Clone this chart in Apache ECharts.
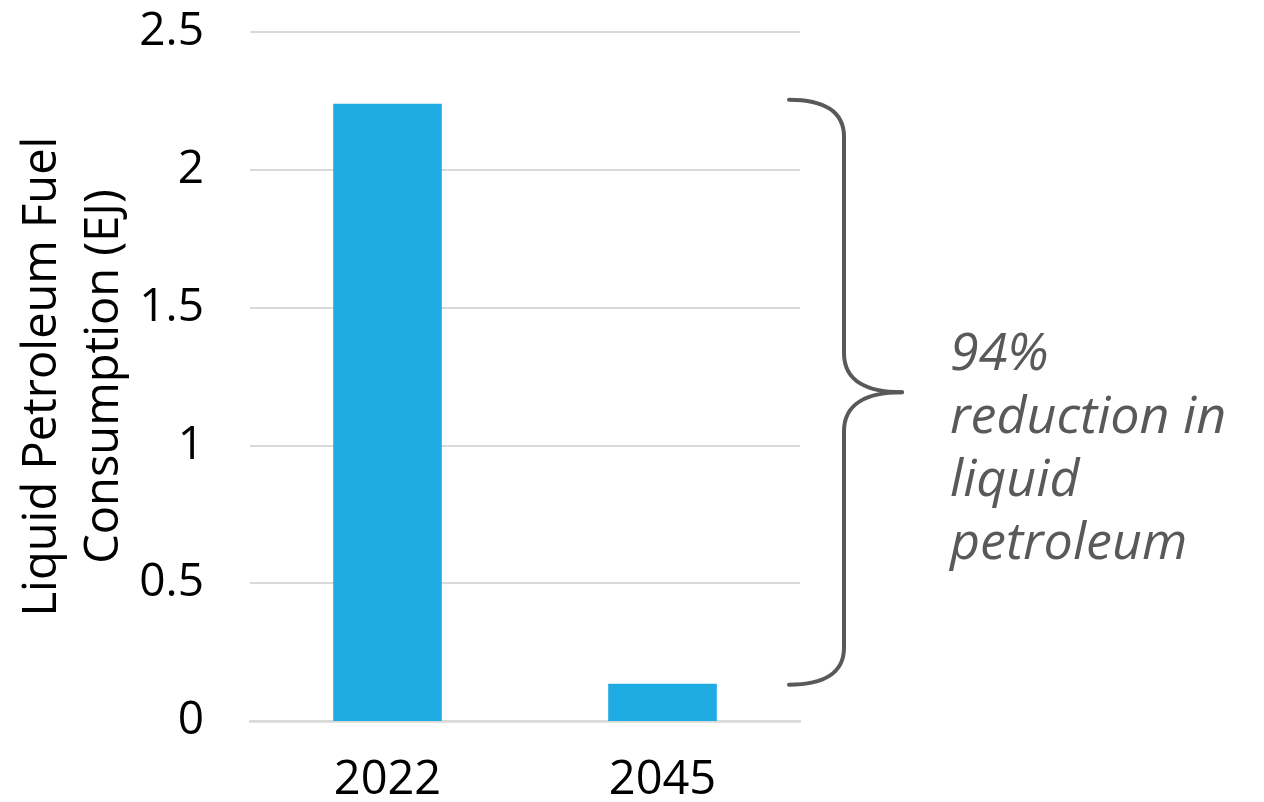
<!DOCTYPE html>
<html>
<head>
<meta charset="utf-8">
<script src="https://cdn.jsdelivr.net/npm/echarts@6/dist/echarts.min.js"></script>
<style>
html,body{margin:0;padding:0;background:#fff;}
#chart{width:1264px;height:802px;}
</style>
</head>
<body>
<div id="chart"></div>
<script>
var categories = ['2022', '2045'];
var consumption = [2.24, 0.135];
var yTicks = [0, 0.5, 1, 1.5, 2, 2.5];
var yAxisTitle = 'Liquid Petroleum Fuel\nConsumption (EJ)';
var annotation = '94%\nreduction in\nliquid\npetroleum';

var FONT = "'Open Sans', Lato, sans-serif";
var GRID_LEFT = 250, GRID_RIGHT = 464, GRID_TOP = 32, GRID_BOTTOM = 81;

var chart = echarts.init(document.getElementById('chart'));
chart.setOption({
  animation: false,
  backgroundColor: '#ffffff',
  grid: {left: GRID_LEFT, right: GRID_RIGHT, top: GRID_TOP, bottom: GRID_BOTTOM,
    containLabel: false, outerBoundsMode: 'none'},
  xAxis: {
    type: 'category',
    data: categories,
    axisLine: {show: true, lineStyle: {color: '#d9d9d9', width: 2.5}},
    axisTick: {show: false},
    axisLabel: {color: '#000', fontFamily: FONT, fontSize: 47, margin: 36}
  },
  yAxis: {
    type: 'value',
    min: yTicks[0],
    max: yTicks[yTicks.length - 1],
    interval: 0.5,
    name: yAxisTitle,
    nameLocation: 'middle',
    nameRotate: 90,
    nameGap: 113,
    nameTextStyle: {color: '#000', fontFamily: FONT, fontSize: 47, lineHeight: 62},
    axisLine: {show: false},
    axisTick: {show: false},
    splitLine: {lineStyle: {color: '#d9d9d9', width: 2}},
    axisLabel: {color: '#000', fontFamily: FONT, fontSize: 46, margin: 46,
      formatter: function (v) { return String(v); }}
  },
  series: [{
    type: 'bar',
    data: consumption,
    barWidth: '39.5%',
    itemStyle: {color: '#1eace3'}
  }]
});

function drawBrace() {
  var top = chart.convertToPixel({yAxisIndex: 0}, consumption[0]) - 4;
  var bot = chart.convertToPixel({yAxisIndex: 0}, consumption[1]) + 1;
  var gridRightX = 1264 - GRID_RIGHT;
  var x0 = gridRightX - 11, x1 = gridRightX + 44, x2 = gridRightX + 102;
  var mid = (top + bot) / 2;
  var st = {fill: null, stroke: '#595959', lineWidth: 4, lineCap: 'round'};
  function curve(a, b, c, d, e, f, g, h) {
    return {type: 'bezierCurve', shape: {x1: a, y1: b, cpx1: c, cpy1: d, cpx2: e, cpy2: f, x2: g, y2: h}, style: st};
  }
  function line(a, b, c, d) {
    return {type: 'line', shape: {x1: a, y1: b, x2: c, y2: d}, style: st};
  }
  chart.setOption({
    graphic: [
      curve(x0, top, x0 + 35, top, x1, top + 12, x1, top + 37),
      line(x1, top + 37, x1, mid - 39),
      curve(x1, mid - 39, x1, mid - 10, x1 + 25, mid, x2, mid),
      curve(x2, mid, x1 + 25, mid, x1, mid + 10, x1, mid + 39),
      line(x1, mid + 39, x1, bot - 37),
      curve(x1, bot - 37, x1, bot - 12, x0 + 35, bot, x0, bot),
      {type: 'text', x: x2 + 48, y: mid - 69, style: {
        text: annotation, fill: '#595959', fontFamily: FONT, fontStyle: 'italic',
        fontSize: 52, lineHeight: 63, verticalAlign: 'top', align: 'left'}}
    ]
  });
}
drawBrace();
</script>
</body>
</html>
